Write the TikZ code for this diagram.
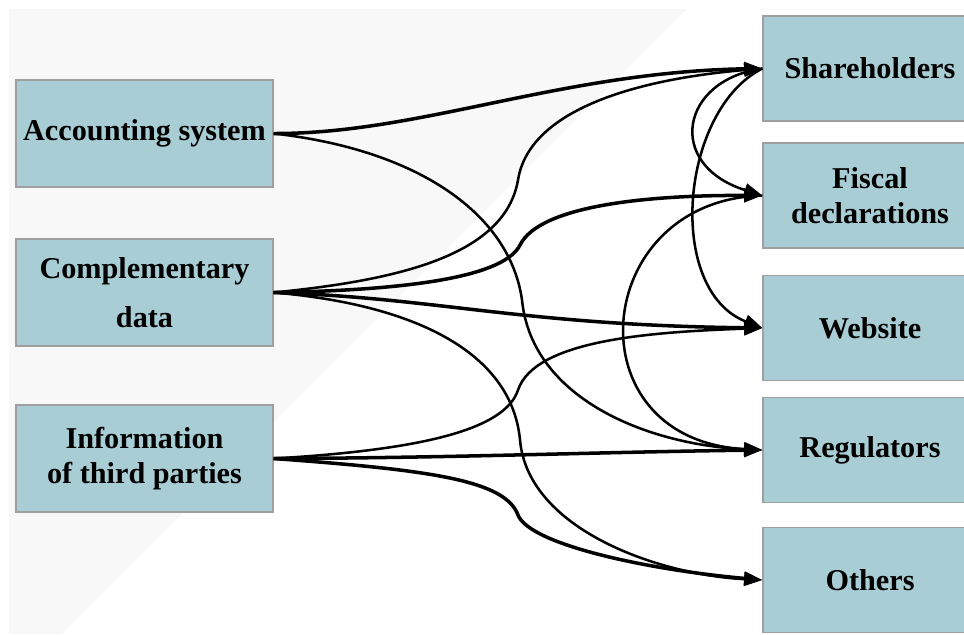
\documentclass[tikz,border=0pt]{standalone}
\usepackage{fontspec}
\setmainfont{Liberation Serif}
\usetikzlibrary{arrows.meta,positioning,calc}
\definecolor{boxfill}{HTML}{A8CDD4}
\definecolor{bggray}{HTML}{F8F8F8}

\begin{document}
\begin{tikzpicture}[x=0.025cm,y=-0.025cm,
  srcbox/.style={draw=gray!75,line width=0.8pt,fill=boxfill,minimum width=6.425cm,minimum height=2.675cm,align=center,inner sep=0pt,font=\bfseries\fontsize{21.5}{25}\selectfont},
  dstbox/.style={srcbox,minimum width=5.35cm,minimum height=2.625cm},
  flow/.style={line width=2.5pt,-{Triangle[length=13pt,width=9.5pt]}},
  thinflow/.style={flow,line width=1.8pt}]
\useasboundingbox (0,0) rectangle (964,634);
\fill[bggray] (9,9) -- (687,9) -- (62,634) -- (9,634) -- cycle;
% sources
\node[srcbox] (acc) at (144.5,133.5) {Accounting system};
\node[srcbox] (comp) at (144.5,292.5) {Complementary\\[10pt]data};
\node[srcbox] (info) at (144.5,458.5) {Information\\of third parties};
% targets
\node[dstbox] (sha) at (870,68.5) {Shareholders};
\node[dstbox] (fis) at (870,195.5) {Fiscal\\declarations};
\node[dstbox] (web) at (870,328) {Website};
\node[dstbox] (reg) at (870,450) {Regulators};
\node[dstbox] (oth) at (870,580) {Others};
% flows
\draw[flow] (acc.east) .. controls (420,134) and (560,72) .. (sha.west);
\draw[thinflow] (acc.east) .. controls (420,150) and (510,215) .. (522,300) .. controls (532,400) and (650,445) .. (reg.west);
\draw[thinflow] (comp.east) .. controls (400,280) and (505,255) .. (518,180) .. controls (530,105) and (650,78) .. (sha.west);
\draw[flow] (comp.east) .. controls (420,290) and (505,275) .. (520,245) .. controls (540,205) and (650,195) .. (fis.west);
\draw[flow] (comp.east) .. controls (440,298) and (520,325) .. (web.west);
\draw[thinflow] (comp.east) .. controls (420,305) and (512,355) .. (520,440) .. controls (528,530) and (660,575) .. (oth.west);
\draw[thinflow] (info.east) .. controls (420,450) and (505,430) .. (518,390) .. controls (535,340) and (650,332) .. (web.west);
\draw[flow] (info.east) .. controls (450,458) and (600,452) .. (reg.west);
\draw[flow] (info.east) .. controls (430,470) and (505,480) .. (518,515) .. controls (530,545) and (650,570) .. (oth.west);
% between targets
\draw[thinflow] (sha.west) .. controls (680,80) and (665,165) .. (fis.west);
\draw[thinflow] (sha.west) .. controls (680,110) and (665,290) .. (web.west);
\draw[thinflow] (fis.west) .. controls (590,200) and (570,440) .. (reg.west);
\end{tikzpicture}
\end{document}
